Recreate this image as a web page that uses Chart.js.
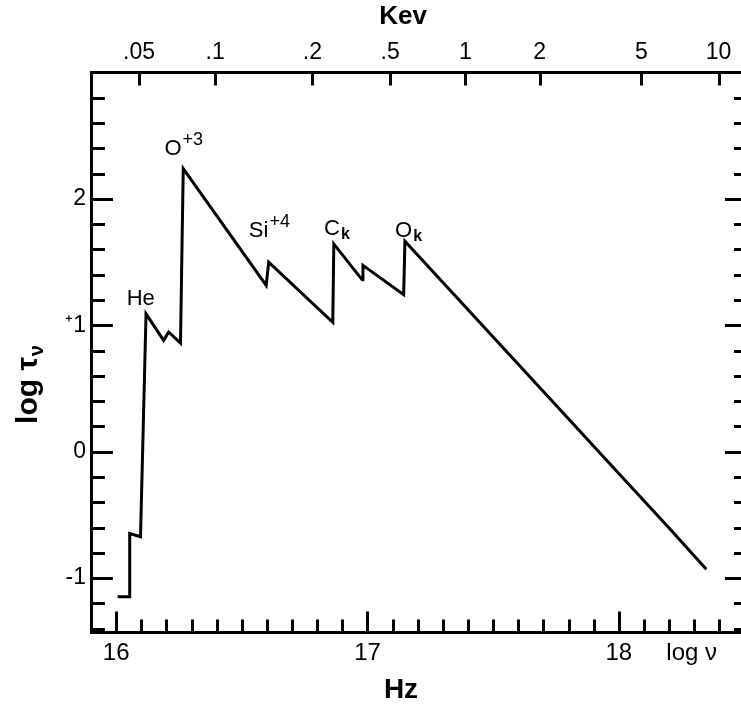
<!DOCTYPE html>
<html><head><meta charset="utf-8">
<script src="https://cdn.jsdelivr.net/npm/chart.js@4/dist/chart.umd.min.js"></script>
<style>
html,body{margin:0;padding:0;background:#fff;overflow:hidden;width:741px;height:711px}
#wrap{position:absolute;left:0;top:0;width:752px;height:711px}
</style></head><body>
<div id="wrap"><canvas id="c" width="752" height="711"></canvas></div>
<script>
// ---- data ----
const logNu  = [16.006,16.054,16.054,16.097,16.119,16.189,16.209,16.256,16.267,16.597,16.607,16.862,16.866,16.979,16.982,17.144,17.149,17.60,18.00,18.20,18.348];
const logTau = [-1.148,-1.148,-0.647,-0.673,1.091,0.881,0.947,0.860,2.239,1.316,1.500,1.024,1.644,1.360,1.474,1.243,1.666,0.692,-0.172,-0.604,-0.929];
const hzTickValues  = [16, 17, 18, 18.29];
const hzTickLabels  = ['16', '17', '18', 'log ν'];
const kevTickValues = [16.091, 16.394, 16.781, 17.090, 17.390, 17.685, 18.090, 18.397];
const kevTickLabels = ['.05', '.1', '.2', '.5', '1', '2', '5', '10'];
const tauTickValues = [-1, 0, 1, 2];
const tauTickLabels = ['-1', '0', '⁺1', '2'];
const edgeMain = ['He', 'O', 'Si', 'C', 'O'];
const edgeSup  = ['', '+3', '+4', '', ''];
const edgeSub  = ['', '', '', 'k', 'k'];
// label anchors (data coords) - kept apart from the values
const edgeAnchorX = [16.042, 16.192, 16.528, 16.827, 17.110];
const edgeAnchorY = [1.161, 2.347, 1.701, 1.714, 1.699];

const X_MIN = 15.9, X_MAX = 18.51, Y_MIN = -1.43, Y_MAX = 3.0;
const FONT = '"Liberation Sans", Arial, sans-serif';

const frameTicks = {
  id: 'frameTicks',
  afterDatasetsDraw(chart) {
    const {ctx, chartArea: a, scales} = chart;
    const xs = scales.x, ys = scales.y;
    ctx.save();
    ctx.strokeStyle = '#000';
    ctx.lineWidth = 3;
    ctx.lineCap = 'butt';
    for (let k = -7; k <= 14; k++) {
      const v = k * 0.2;
      if (v < Y_MIN || v > Y_MAX) continue;
      const major = (k % 5 === 0);
      const py = Math.round(ys.getPixelForValue(v)) + 0.5;
      ctx.beginPath(); ctx.moveTo(a.left, py); ctx.lineTo(a.left + (major ? 22 : 14), py); ctx.stroke();
      ctx.beginPath(); ctx.moveTo(a.right, py); ctx.lineTo(a.right - (major ? 22 : 13), py); ctx.stroke();
    }
    for (let k = 160; k <= 185; k++) {
      const v = k / 10;
      if (v > X_MAX) continue;
      const major = (k % 10 === 0);
      const px = Math.round(xs.getPixelForValue(v)) + 0.5;
      ctx.beginPath(); ctx.moveTo(px, a.bottom); ctx.lineTo(px, a.bottom - (major ? 21 : 13)); ctx.stroke();
    }
    for (const v of kevTickValues) {
      const px = Math.round(xs.getPixelForValue(v)) + 0.5;
      ctx.beginPath(); ctx.moveTo(px, a.top); ctx.lineTo(px, a.top + 13); ctx.stroke();
    }
    ctx.fillStyle = '#000';
    ctx.textBaseline = 'alphabetic';
    ctx.textAlign = 'left';
    for (let i = 0; i < edgeMain.length; i++) {
      const px = xs.getPixelForValue(edgeAnchorX[i]);
      const py = ys.getPixelForValue(edgeAnchorY[i]);
      ctx.font = '22px ' + FONT;
      ctx.fillText(edgeMain[i], px, py);
      const w = ctx.measureText(edgeMain[i]).width;
      if (edgeSup[i]) { ctx.font = '18px ' + FONT; ctx.fillText(edgeSup[i], px + w + 1, py - 10); }
      if (edgeSub[i]) { ctx.font = 'bold 16px ' + FONT; ctx.fillText(edgeSub[i], px + w + 1, py + 4); }
    }
    ctx.textAlign = 'center';
    ctx.textBaseline = 'middle';
    ctx.font = 'bold 26px ' + FONT;
    ctx.fillText('Kev', 403, 17);
    ctx.font = 'bold 28px ' + FONT;
    ctx.fillText('Hz', 401, 690);
    ctx.translate(27, 385);
    ctx.rotate(-Math.PI / 2);
    ctx.font = 'bold 30px ' + FONT;
    const main = 'log τ';
    const wm = ctx.measureText(main).width;
    ctx.font = 'bold 20px ' + FONT;
    const ws = ctx.measureText('ν').width;
    const tot = wm + ws;
    ctx.textAlign = 'left';
    ctx.textBaseline = 'alphabetic';
    ctx.font = 'bold 30px ' + FONT;
    ctx.fillText(main, -tot / 2, 10);
    ctx.font = 'bold 20px ' + FONT;
    ctx.fillText('ν', -tot / 2 + wm + 1, 16);
    ctx.restore();
  }
};

new Chart(document.getElementById('c'), {
  type: 'line',
  data: {
    datasets: [{
      data: logNu.map((x, i) => ({x: x, y: logTau[i]})),
      borderColor: '#000',
      borderWidth: 3,
      pointRadius: 0,
      tension: 0,
      fill: false,
      borderJoinStyle: 'miter'
    }]
  },
  options: {
    responsive: false,
    devicePixelRatio: 1,
    animation: false,
    layout: {padding: {left: 0, right: 5, top: 0, bottom: 0}},
    plugins: {legend: {display: false}, tooltip: {enabled: false}},
    scales: {
      x: {
        type: 'linear', position: 'bottom', min: X_MIN, max: X_MAX,
        afterBuildTicks: s => { s.ticks = hzTickValues.map(v => ({value: v})); },
        afterFit: s => { s.height = 78.5; },
        ticks: {
          autoSkip: false, maxRotation: 0, padding: 6, color: '#000',
          font: {family: FONT, size: 24},
          callback: (v, i) => hzTickLabels[i]
        },
        grid: {display: false, drawTicks: false},
        border: {display: true, color: '#000', width: 3}
      },
      x2: {
        type: 'linear', position: 'top', min: X_MIN, max: X_MAX,
        afterBuildTicks: s => { s.ticks = kevTickValues.map(v => ({value: v})); },
        afterFit: s => { s.height = 72.5; },
        ticks: {
          autoSkip: false, maxRotation: 0, padding: 6, color: '#000',
          font: {family: FONT, size: 23},
          callback: (v, i) => kevTickLabels[i]
        },
        grid: {display: false, drawTicks: false},
        border: {display: true, color: '#000', width: 3}
      },
      y: {
        type: 'linear', position: 'left', min: Y_MIN, max: Y_MAX,
        afterBuildTicks: s => { s.ticks = tauTickValues.map(v => ({value: v})); },
        afterFit: s => { s.width = 91; },
        ticks: {
          autoSkip: false, padding: 5, color: '#000',
          font: {family: FONT, size: 23},
          callback: (v, i) => tauTickLabels[i]
        },
        grid: {display: false, drawTicks: false},
        border: {display: true, color: '#000', width: 3}
      }
    }
  },
  plugins: [frameTicks]
});
</script>
</body></html>
